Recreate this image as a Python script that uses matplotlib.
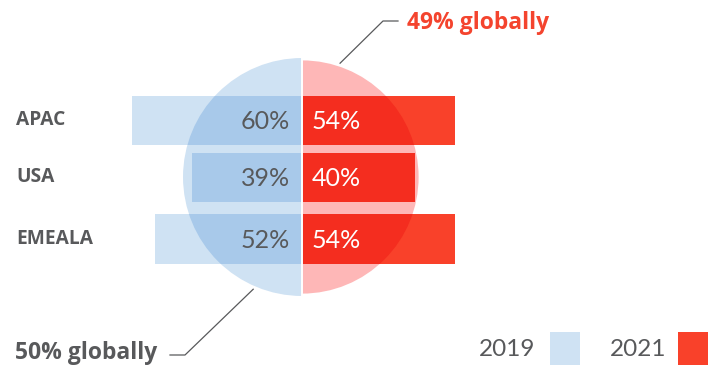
import numpy as np
import matplotlib.pyplot as plt
from matplotlib.patches import Wedge, Rectangle

# share of respondents per region, 2019 vs 2021
regions = ['APAC', 'USA', 'EMEALA']
share_2019 = [60, 39, 52]
share_2021 = [54, 40, 54]
global_2019 = 50
global_2021 = 49
years = ['2019', '2021']

plt.rcParams['font.family'] = ['Lato', 'DejaVu Sans']
BOLD_FONT = ['Open Sans', 'DejaVu Sans']

GREY = '#58595B'
BLUE_LIGHT = '#CFE2F3'
BLUE_DARK = '#A8C9EA'
PINK = '#FEB7B7'
RED = '#F9412A'
RED_DARK = '#F42D1F'
RED_TEXT = '#F4442E'

K = 2.833          # pixels per percentage point
CX = 302           # centre line, px
CY = 177           # circle centre, px
R_SCALE = 0.84     # circle radius per global percentage point
row_y = [120, 177, 239]
bar_h = 49


def dx(px):
    return (px - CX) / K


def dy(px):
    return px / K


fig = plt.figure(figsize=(7.18, 3.67), dpi=100)
ax = fig.add_axes([0, 0, 1, 1])
ax.set_xlim(dx(0), dx(718))
ax.set_ylim(dy(367), dy(0))
ax.axis('off')

cy = dy(CY)
r_left = global_2019 * R_SCALE
r_right = global_2021 * R_SCALE
half_left = Wedge((0, cy), r_left, 90, 270, facecolor=BLUE_LIGHT, edgecolor='none')
half_right = Wedge((0, cy), r_right, -90, 90, facecolor=PINK, edgecolor='none')
ax.add_patch(half_left)
ax.add_patch(half_right)

ys = [dy(y) for y in row_y]
h = dy(bar_h)

# bars, with a darker copy clipped to the circle where they overlap
ax.barh(ys, [-v for v in share_2019], left=0, height=h, color=BLUE_LIGHT, zorder=2)
inner = ax.barh(ys, [-v for v in share_2019], left=0, height=h, color=BLUE_DARK, zorder=3)
for b in inner:
    b.set_clip_path(half_left)
ax.barh(ys, share_2021, left=0, height=h, color=RED, zorder=2)
inner = ax.barh(ys, share_2021, left=0, height=h, color=RED_DARK, zorder=3)
for b in inner:
    b.set_clip_path(half_right)

ax.plot([0, 0], [cy - r_left, cy + r_left], color='white', lw=1.4, zorder=4, solid_capstyle='butt')

for y, name, v19, v21 in zip(ys, regions, share_2019, share_2021):
    ax.text(dx(16), y, name, ha='left', va='center', fontsize=13.8, fontweight='bold',
            color=GREY, family=BOLD_FONT)
    ax.text(dx(290), y + dy(1.5), f'{v19}%', ha='right', va='center', fontsize=18, color=GREY, zorder=5)
    ax.text(dx(312), y + dy(1.5), f'{v21}%', ha='left', va='center', fontsize=18, color='white', zorder=5)

# leader lines to the global figures
a = np.deg2rad(18.5)
start = (np.sin(a) * (r_right + 1.2), cy - np.cos(a) * (r_right + 1.2))
ax.plot([start[0], dx(383), dx(398)], [start[1], dy(21), dy(21)], color=GREY, lw=0.9)
ax.text(dx(407), dy(29), f'{global_2021}% globally', ha='left', va='baseline',
        fontsize=16.5, fontweight='bold', color=RED_TEXT, family=BOLD_FONT)

a = np.deg2rad(23.5)
start = (-np.sin(a) * (r_left + 1.2), cy + np.cos(a) * (r_left + 1.2))
ax.plot([start[0], dx(185), dx(170)], [start[1], dy(355), dy(355)], color=GREY, lw=0.9)
ax.text(dx(15), dy(359), f'{global_2019}% globally', ha='left', va='baseline',
        fontsize=16.5, fontweight='bold', color=GREY, family=BOLD_FONT)

# legend
for label, color, x_txt, x_box in zip(years, [BLUE_LIGHT, RED], [535, 666], [550, 678]):
    ax.text(dx(x_txt), dy(356), label, ha='right', va='baseline', fontsize=17.5, color=GREY)
    ax.add_patch(Rectangle((dx(x_box), dy(332)), 30 / K, 33 / K, facecolor=color, edgecolor='none'))

fig.savefig('out.png', dpi=100)
